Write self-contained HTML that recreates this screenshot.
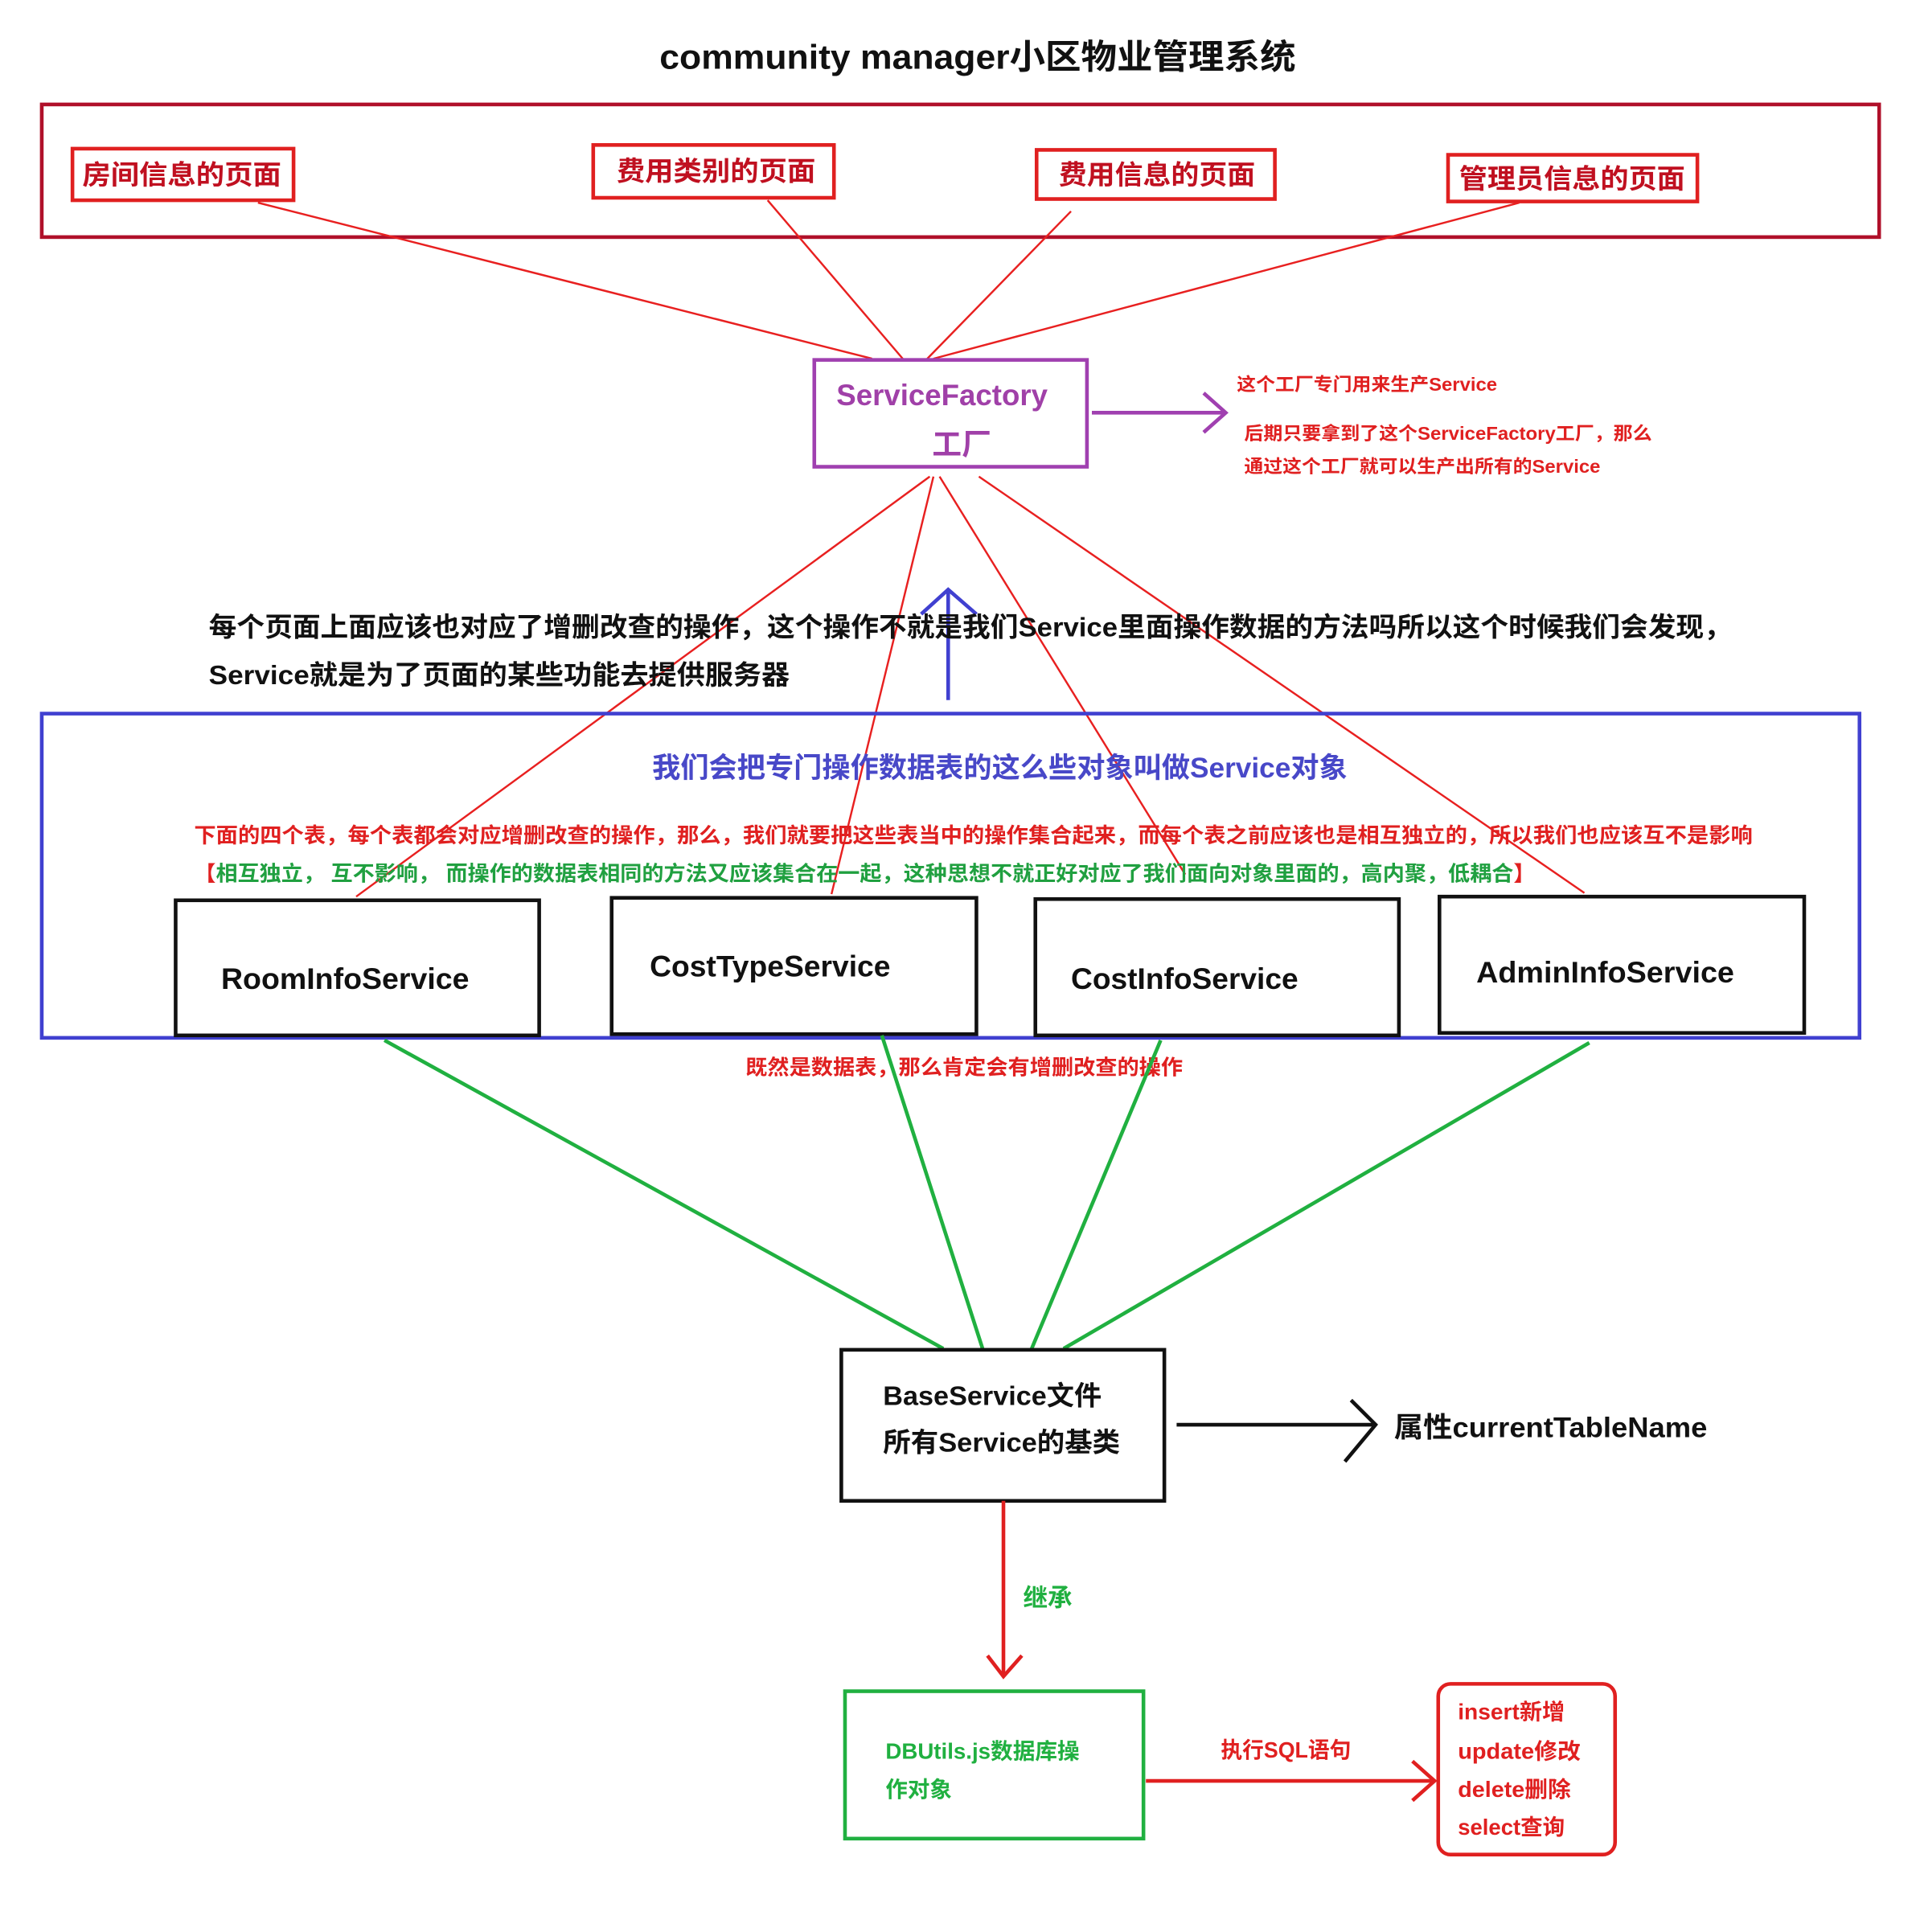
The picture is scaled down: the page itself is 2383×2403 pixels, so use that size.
<!DOCTYPE html>
<html><head><meta charset="utf-8"><style>
html,body{margin:0;padding:0;background:#fff;}
svg{display:block;}
text{font-family:"Liberation Sans","Noto Sans CJK SC",sans-serif;font-weight:bold;}
</style></head><body>
<svg width="2383" height="2403" viewBox="0 0 1560 1573" xmlns="http://www.w3.org/2000/svg">
<rect width="1560" height="1573" fill="#fff"/>
<text x="537" y="56" font-size="28" fill="#111" textLength="518" lengthAdjust="spacingAndGlyphs">community manager小区物业管理系统</text>
<rect x="34" y="85" width="1496" height="108" fill="none" stroke="#b0102a" stroke-width="3"/>
<g fill="none" stroke="#e02020" stroke-width="3">
<rect x="59" y="121" width="180" height="42"/>
<rect x="483" y="118" width="196" height="43"/>
<rect x="844" y="122" width="194" height="40"/>
<rect x="1179" y="126" width="203" height="38"/>
</g>
<g font-size="22" fill="#c01020">
<text x="67" y="150" textLength="162" lengthAdjust="spacingAndGlyphs">房间信息的页面</text>
<text x="502" y="147" textLength="162" lengthAdjust="spacingAndGlyphs">费用类别的页面</text>
<text x="862" y="150" textLength="160" lengthAdjust="spacingAndGlyphs">费用信息的页面</text>
<text x="1188" y="153" textLength="184" lengthAdjust="spacingAndGlyphs">管理员信息的页面</text>
</g>
<g stroke="#e82020" stroke-width="1.6">
<line x1="210" y1="165" x2="710" y2="292"/>
<line x1="625" y1="163" x2="735" y2="292"/>
<line x1="872" y1="172" x2="755" y2="292"/>
<line x1="1237" y1="165" x2="760" y2="292"/>
<line x1="757" y1="388" x2="290" y2="730"/>
<line x1="760" y1="388" x2="677" y2="728"/>
<line x1="765" y1="388" x2="965" y2="712"/>
<line x1="797" y1="388" x2="1290" y2="727"/>
</g>
<rect x="663" y="293" width="222" height="87" fill="none" stroke="#a040b0" stroke-width="3"/>
<text x="681" y="330" font-size="24" fill="#a040a8" textLength="172" lengthAdjust="spacingAndGlyphs">ServiceFactory</text>
<text x="783" y="370" font-size="24" text-anchor="middle" fill="#a040a8">工厂</text>
<g stroke="#a040b0" stroke-width="3" fill="none">
<line x1="889" y1="336" x2="996" y2="336"/><polyline points="980,320 998,336 980,352"/>
</g>
<g font-size="15" fill="#e02020">
<text x="1007" y="318" textLength="212" lengthAdjust="spacingAndGlyphs">这个工厂专门用来生产Service</text>
<text x="1013" y="358" textLength="332" lengthAdjust="spacingAndGlyphs">后期只要拿到了这个ServiceFactory工厂，那么</text>
<text x="1013" y="385" textLength="290" lengthAdjust="spacingAndGlyphs">通过这个工厂就可以生产出所有的Service</text>
</g>
<g stroke="#4040d0" stroke-width="3" fill="none">
<line x1="772" y1="570" x2="772" y2="482"/><polyline points="750,500 772,480 795,500"/>
</g>
<g font-size="22" fill="#111">
<text x="170" y="518" textLength="1240" lengthAdjust="spacingAndGlyphs">每个页面上面应该也对应了增删改查的操作，这个操作不就是我们Service里面操作数据的方法吗所以这个时候我们会发现，</text>
<text x="170" y="557" textLength="473" lengthAdjust="spacingAndGlyphs">Service就是为了页面的某些功能去提供服务器</text>
</g>
<rect x="34" y="581" width="1480" height="264" fill="none" stroke="#4040d0" stroke-width="3"/>
<text x="531" y="633" font-size="23" fill="#4848c8" textLength="566" lengthAdjust="spacingAndGlyphs">我们会把专门操作数据表的这么些对象叫做Service对象</text>
<text x="158" y="686" font-size="17" fill="#e02020" textLength="1269" lengthAdjust="spacingAndGlyphs">下面的四个表，每个表都会对应增删改查的操作，那么，我们就要把这些表当中的操作集合起来，而每个表之前应该也是相互独立的，所以我们也应该互不是影响</text>
<text x="158" y="717" font-size="17" textLength="1092" lengthAdjust="spacingAndGlyphs"><tspan fill="#e02020">【</tspan><tspan fill="#20a040">相互独立， 互不影响， 而操作的数据表相同的方法又应该集合在一起，这种思想不就正好对应了我们面向对象里面的，高内聚，低耦合</tspan><tspan fill="#e02020">】</tspan></text>
<g fill="#fff" stroke="#111" stroke-width="3">
<rect x="143" y="733" width="296" height="110"/>
<rect x="498" y="731" width="297" height="111"/>
<rect x="843" y="732" width="296" height="111"/>
<rect x="1172" y="730" width="297" height="111"/>
</g>
<g font-size="24" fill="#111">
<text x="180" y="805" textLength="202" lengthAdjust="spacingAndGlyphs">RoomInfoService</text>
<text x="529" y="795" textLength="196" lengthAdjust="spacingAndGlyphs">CostTypeService</text>
<text x="872" y="805" textLength="185" lengthAdjust="spacingAndGlyphs">CostInfoService</text>
<text x="1202" y="800" textLength="210" lengthAdjust="spacingAndGlyphs">AdminInfoService</text>
</g>
<text x="607" y="875" font-size="17" fill="#e02020" textLength="356" lengthAdjust="spacingAndGlyphs">既然是数据表，那么肯定会有增删改查的操作</text>
<g stroke="#20b040" stroke-width="3">
<line x1="313" y1="847" x2="768" y2="1098"/>
<line x1="718" y1="843" x2="800" y2="1098"/>
<line x1="945" y1="847" x2="840" y2="1098"/>
<line x1="1294" y1="849" x2="866" y2="1098"/>
</g>
<rect x="685" y="1099" width="263" height="123" fill="#fff" stroke="#111" stroke-width="3"/>
<text x="719" y="1144" font-size="22" fill="#111" textLength="178" lengthAdjust="spacingAndGlyphs">BaseService文件</text>
<text x="719" y="1182" font-size="22" fill="#111" textLength="193" lengthAdjust="spacingAndGlyphs">所有Service的基类</text>
<g stroke="#111" stroke-width="3" fill="none">
<line x1="958" y1="1160" x2="1118" y2="1160"/><polyline points="1100,1140 1120,1160 1095,1190"/>
</g>
<text x="1135" y="1170" font-size="23" fill="#111" textLength="255" lengthAdjust="spacingAndGlyphs">属性currentTableName</text>
<g stroke="#e02020" stroke-width="3" fill="none">
<line x1="817" y1="1222" x2="817" y2="1363"/><polyline points="804,1348 817,1365 832,1348"/>
<line x1="933" y1="1450" x2="1166" y2="1450"/><polyline points="1150,1434 1168,1450 1150,1466"/>
</g>
<text x="833" y="1308" font-size="20" fill="#20b040">继承</text>
<rect x="688" y="1377" width="243" height="120" fill="none" stroke="#20b040" stroke-width="3"/>
<text x="721" y="1432" font-size="18" fill="#20b040" textLength="158" lengthAdjust="spacingAndGlyphs">DBUtils.js数据库操</text>
<text x="721" y="1463" font-size="18" fill="#20b040">作对象</text>
<text x="994" y="1431" font-size="18" fill="#e02020" textLength="106" lengthAdjust="spacingAndGlyphs">执行SQL语句</text>
<rect x="1171" y="1371" width="144" height="139" rx="10" fill="none" stroke="#e02020" stroke-width="3"/>
<g font-size="18" fill="#e02020">
<text x="1187" y="1400" textLength="87" lengthAdjust="spacingAndGlyphs">insert新增</text>
<text x="1187" y="1432" textLength="100" lengthAdjust="spacingAndGlyphs">update修改</text>
<text x="1187" y="1463" textLength="92" lengthAdjust="spacingAndGlyphs">delete删除</text>
<text x="1187" y="1494" textLength="87" lengthAdjust="spacingAndGlyphs">select查询</text>
</g>
</svg>
</body></html>
